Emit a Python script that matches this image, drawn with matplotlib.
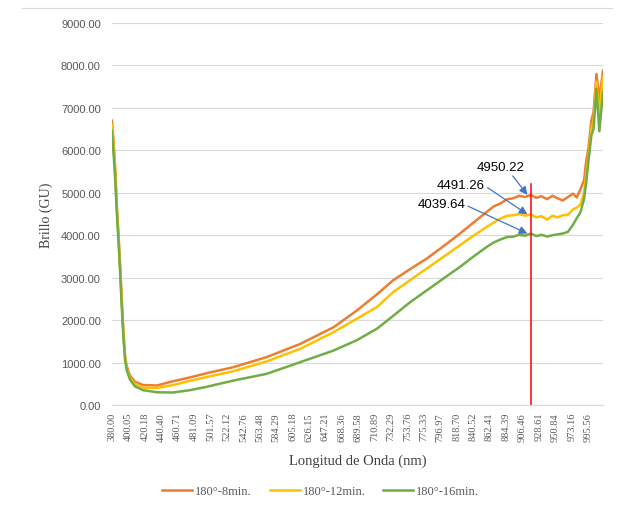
import numpy as np
import matplotlib.pyplot as plt
from matplotlib.lines import Line2D

# wavelength labels shown on the category axis (nm)
tick_nm = [380.00, 400.05, 420.18, 440.40, 460.71, 481.09, 501.57, 522.12, 542.76, 563.48,
           584.29, 605.18, 626.15, 647.21, 668.36, 689.58, 710.89, 732.29, 753.76, 775.33,
           796.97, 818.70, 840.52, 862.41, 884.39, 906.46, 928.61, 950.84, 973.16, 995.56]

# sampled wavelengths (nm)
wl = [380, 382, 384, 386, 388, 390, 392, 394, 396, 398, 402, 408, 418, 435, 455, 476, 497,
      530, 572, 615, 658, 688, 714, 735, 757, 779, 801, 823, 841, 859, 868, 877, 886, 894,
      902, 910, 918, 925, 932, 940, 947, 954, 961, 968, 975, 980, 985, 990, 993, 996, 1000,
      1003, 1007, 1011, 1016]

# brightness (GU) for each condition
brillo_8 = [6700, 6200, 5550, 4650, 4000, 3250, 2450, 1700, 1150, 920, 690, 550, 470, 460, 560, 650, 750,
            890, 1127, 1440, 1835, 2230, 2610, 2940, 3200, 3450, 3740, 4040, 4300, 4555, 4680, 4750, 4850, 4870,
            4930, 4900, 4950.22, 4880, 4920, 4850, 4930, 4870, 4820, 4900, 4980, 4890, 5080, 5300, 5750, 6050, 6700,
            6900, 7800, 7200, 7880]
brillo_12 = [6600, 6100, 5450, 4600, 3950, 3200, 2400, 1650, 1100, 870, 640, 490, 410, 400, 470, 570, 660,
             795, 1025, 1325, 1720, 2035, 2310, 2660, 2940, 3215, 3490, 3765, 3990, 4200, 4300, 4395, 4460, 4470,
             4500, 4460, 4491.26, 4420, 4450, 4370, 4460, 4420, 4470, 4480, 4610, 4650, 4720, 5000, 5450, 5850, 6500,
             6700, 7620, 6850, 7740]
brillo_16 = [6450, 5900, 5300, 4500, 3850, 3100, 2300, 1600, 1050, 820, 600, 440, 350, 300, 295, 350, 430,
             575, 733, 1010, 1285, 1530, 1800, 2100, 2420, 2700, 2980, 3255, 3500, 3730, 3830, 3900, 3960, 3965,
             4010, 3990, 4039.64, 3980, 4010, 3970, 4000, 4020, 4040, 4080, 4250, 4400, 4540, 4850, 5250, 5750, 6350,
             6500, 7450, 6450, 7370]

series_names = ["180°-8min.", "180°-12min.", "180°-16min."]
colors = ["#ED7D31", "#FFC000", "#70AD47"]

# reference wavelength and the values read there
marker_nm = 918
marker_top = 5200
marker_vals = [4950.22, 4491.26, 4039.64]

# category axis: each label is one slot, samples placed between slots
axis_nm = np.append(tick_nm, tick_nm[-1] + 22.6)


def to_cat(nm):
    return np.interp(nm, axis_nm, np.arange(len(axis_nm)))


fig = plt.figure(figsize=(6.18, 5.10), dpi=100)
ax = fig.add_axes([0.1812, 0.2039, 0.7945, 0.749])

x = to_cat(wl)
for vals, name, c in zip([brillo_8, brillo_12, brillo_16], series_names, colors):
    ax.plot(x, vals, color=c, lw=1.8, label=name, solid_joinstyle="round")

ax.plot([to_cat(marker_nm)] * 2, [0, marker_top], color="#FF0000", lw=1.1)

ax.set_xlim(0, to_cat(wl[-1]))
ax.set_ylim(0, 9000)
ax.set_yticks(np.arange(0, 9001, 1000))
ax.set_yticklabels([f"{v:.2f}" for v in np.arange(0, 9001, 1000)],
                   family="Liberation Sans", fontsize=8, color="#595959")
ax.set_xticks(np.arange(len(tick_nm)))
ax.set_xticklabels([f"{v:.2f}" for v in tick_nm], rotation=90,
                   family="Liberation Serif", fontsize=7.5, color="#595959")
ax.tick_params(axis="both", length=0)
ax.tick_params(axis="y", pad=8)
ax.tick_params(axis="x", pad=5)
ax.grid(axis="y", color="#d9d9d9", lw=0.8)
ax.set_axisbelow(True)
for s in ["top", "right", "left"]:
    ax.spines[s].set_visible(False)
ax.spines["bottom"].set_color("#d9d9d9")

# value callouts at the reference wavelength
offsets = [(-19, 20), (-48, 21.5), (-62, 21.5)]
rel = [(0.7, 0.0), (1.0, 0.4), (1.0, 0.4)]
for v, off, rp in zip(marker_vals, offsets, rel):
    ax.annotate(f"{v:.2f}", xy=(to_cat(marker_nm) - 0.22, v), xytext=off,
                textcoords="offset points", ha="center", va="center",
                family="Liberation Sans", fontsize=9.5, color="#000000",
                arrowprops=dict(arrowstyle="-|>", color="#4472C4", lw=0.9,
                                mutation_scale=12, shrinkA=0, shrinkB=0, relpos=rp))

fig.text(357.5 / 618, 1 - 461 / 510, "Longitud de Onda (nm)", ha="center", va="center",
         family="Liberation Serif", fontsize=10.5, color="#404040")
fig.text(46.7 / 618, 1 - 215 / 510, "Brillo (GU)", ha="center", va="center", rotation=90,
         family="Liberation Serif", fontsize=10, color="#404040")

fig.legend(loc="center", bbox_to_anchor=(0.519, 0.035), ncol=3, frameon=False,
           prop={"family": "Liberation Serif", "size": 9}, labelcolor="#595959",
           handlelength=2.4, columnspacing=1.4, handletextpad=0.25)

fig.add_artist(Line2D([22 / 618, 0.99], [1 - 9 / 510] * 2, color="#d9d9d9", lw=0.8))

fig.savefig("out.png", dpi=100, facecolor="white")
